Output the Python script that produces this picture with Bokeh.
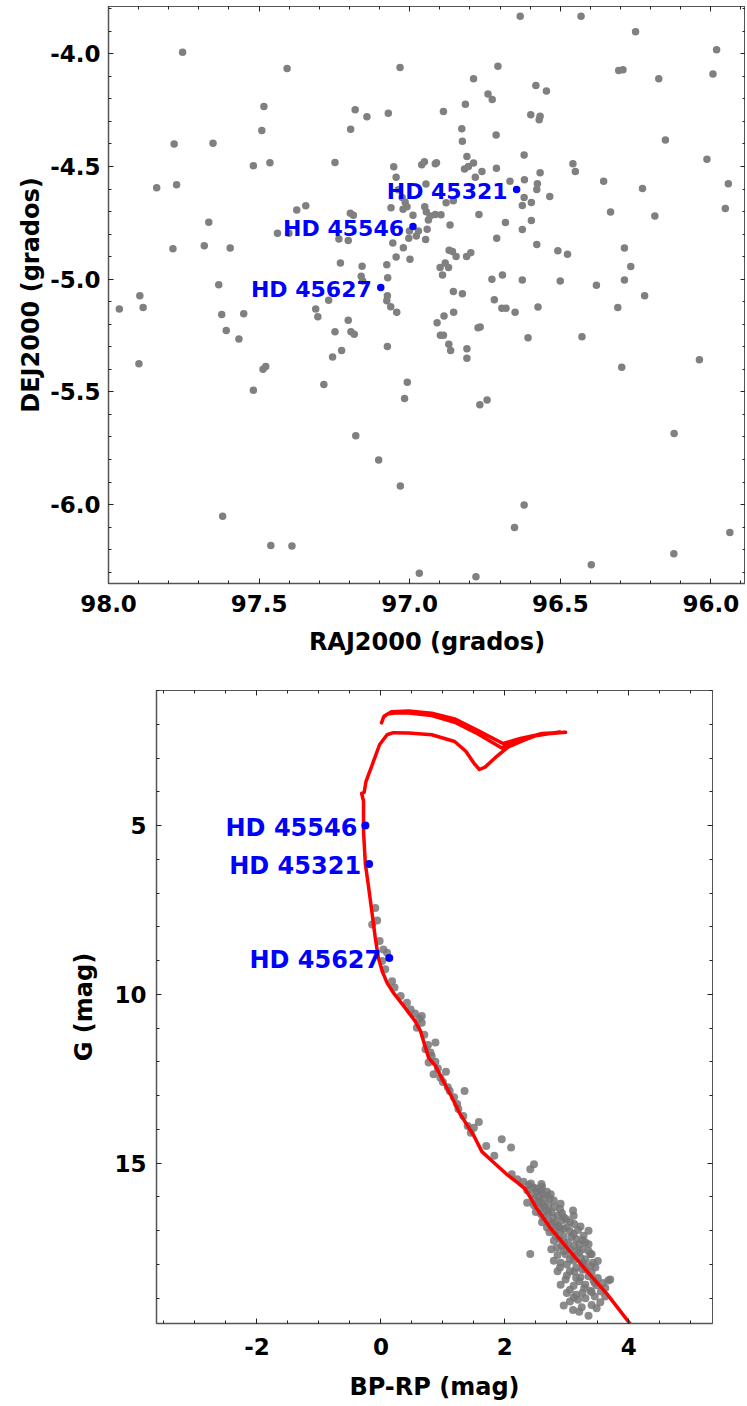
from bokeh.plotting import figure
from bokeh.models import (LinearAxis, SingleIntervalTicker, PrintfTickFormatter,
                          CustomJSTickFormatter, Range1d, ColumnDataSource)
from bokeh.embed import file_html
from bokeh.resources import INLINE
from bokeh.core.properties import value

# ---------------- data: sky positions ----------------
ra_deg = [97.754, 97.407, 97.484, 97.491, 97.782, 97.653, 97.519, 97.464, 97.840, 97.774,
          97.375, 97.345, 97.667, 97.439, 97.401, 97.786, 97.682, 97.596, 97.634, 97.896,
          97.964, 97.885, 97.624, 97.551, 97.609, 97.567, 97.899, 97.487, 97.478, 97.519,
          97.621, 97.461, 97.391,
          97.312, 97.305, 97.269, 97.204, 97.248, 97.195, 97.184, 97.226, 97.256, 97.285,
          97.074, 97.076, 97.063, 97.043, 97.074, 97.008, 97.017, 97.179, 97.103, 97.031,
          96.968, 96.780, 96.855, 96.825, 96.909, 96.886, 96.854, 96.898, 96.888, 96.870,
          96.864, 96.810, 96.810, 96.773, 96.766, 96.719, 96.694, 96.680, 96.650, 96.607,
          96.767, 96.743, 96.620, 96.652,
          96.574, 96.428, 96.309, 96.220, 96.296, 96.038, 96.122, 95.937, 96.123, 96.397,
          96.633, 97.032, 96.707, 96.788, 96.740, 96.726, 97.181, 97.142, 97.071, 96.888,
          96.815, 97.196, 96.827, 96.825, 96.713, 97.248, 97.053, 96.960, 96.951, 96.915,
          96.911, 96.810, 96.818, 96.805, 96.788, 96.760, 96.782, 96.712, 96.620, 96.619,
          96.667, 97.045, 96.946, 97.038, 97.025, 97.015, 97.009, 96.879, 96.855, 97.062,
          97.022, 96.950, 96.945, 96.932, 96.915, 96.896, 96.989, 96.938, 96.770, 97.197,
          97.187, 96.866, 96.682, 96.626, 97.235, 97.204, 97.003, 96.978, 96.971, 96.947,
          96.942, 97.001, 97.056, 97.021, 97.045, 96.999, 96.711, 97.230, 97.158, 97.076,
          96.869, 96.858, 96.846, 96.811, 96.797, 96.899, 96.882, 96.871, 96.891, 97.161,
          97.156, 97.073, 96.727, 96.692, 96.626,
          96.431, 96.250, 95.981, 96.306, 96.292, 95.993, 96.173, 96.581, 96.546, 96.598,
          96.567, 96.570, 96.151, 96.458, 96.450, 96.013, 96.567, 96.576, 96.578, 96.356,
          96.227, 95.942, 96.620, 96.626, 96.596, 96.535, 96.333, 96.186, 95.952, 96.596,
          96.578, 96.508, 96.476, 96.287, 96.266, 96.500, 96.380, 96.287]
dec_deg = [-3.993, -4.065, -4.234, -4.340, -4.400, -4.397, -4.496, -4.483, -4.594, -4.581,
           -4.693, -4.674, -4.747, -4.796, -4.796, -4.865, -4.852, -4.862, -5.024, -5.073,
           -5.132, -5.126, -5.156, -5.153, -5.228, -5.265, -5.375, -5.399, -5.387, -5.493,
           -6.052, -6.181, -6.184,
           -5.132, -5.166, -5.093, -5.182, -5.233, -5.233, -5.244, -5.316, -5.345, -5.467,
           -5.073, -5.096, -5.122, -5.147, -5.298, -5.457, -5.529, -5.695, -5.802, -5.917,
           -6.304, -6.320, -5.055, -5.065, -5.193, -5.163, -5.147, -5.249, -5.249, -5.288,
           -5.316, -5.308, -5.351, -5.215, -5.212, -5.091, -5.129, -5.129, -5.147, -5.260,
           -5.557, -5.536, -6.002, -6.101,
           -5.123, -5.255, -5.126, -5.073, -5.391, -5.357, -5.684, -6.124, -6.218, -6.267,
           -3.833, -4.061, -4.055, -4.111, -4.178, -4.203, -4.248, -4.279, -4.264, -4.256,
           -4.224, -4.335, -4.332, -4.388, -4.360, -4.482, -4.501, -4.492, -4.479, -4.488,
           -4.483, -4.455, -4.511, -4.500, -4.484, -4.522, -4.548, -4.508, -4.449, -4.559,
           -4.565, -4.548, -4.578, -4.603, -4.637, -4.658, -4.679, -4.661, -4.652, -4.683,
           -4.689, -4.679, -4.701, -4.719, -4.713, -4.714, -4.716, -4.737, -4.713, -4.707,
           -4.716, -4.759, -4.748, -4.779, -4.822, -4.828, -4.818, -4.808, -4.786, -4.824,
           -4.778, -4.786, -4.839, -4.860, -4.901, -4.911, -4.818, -4.928, -4.942, -4.936,
           -4.871, -4.877, -4.899, -4.899, -4.882, -4.948, -4.928, -4.948, -4.981, -4.987,
           -5.008, -4.993, -5.000, -4.981, -5.003,
           -3.833, -3.902, -3.982, -4.074, -4.071, -4.089, -4.111, -4.141, -4.165, -4.270,
           -4.277, -4.293, -4.382, -4.488, -4.522, -4.468, -4.528, -4.576, -4.602, -4.565,
           -4.597, -4.576, -4.637, -4.673, -4.660, -4.633, -4.702, -4.720, -4.686, -4.739,
           -4.846, -4.874, -4.889, -4.861, -4.944, -5.008, -5.027, -5.003]

star_names = ["HD 45321", "HD 45546", "HD 45627"]
star_ra = [96.645, 96.989, 97.096]
star_dec = [-4.602, -4.766, -5.037]

# ---------------- data: colour-magnitude diagram ----------------
bp_rp = [-0.09, -0.06, -0.14, -0.02, 0.04, 0.10, 0.02, 0.07, 0.18, 0.22, 0.32, 0.42, 0.55,
         0.66, 0.66, 0.58, 0.88, 0.72, 0.82, 0.77, 0.88, 0.85, 1.05, 0.96, 1.11, 1.35, 1.23,
         1.33, 1.58, 1.50, 1.70, 1.95, 2.10, 1.83, 2.41, 2.47, 2.11, 2.20, 2.59, 2.36, 2.46,
         2.62, 2.74, 2.36, 2.59, 2.79, 2.89, 2.68, 3.11, 2.99, 2.81, 2.68, 3.22, 2.89, 3.11,
         3.27, 2.79, 3.02, 3.35, 2.41, 2.79, 2.89, 3.11, 3.38, 3.46, 3.00, 3.22, 3.43, 3.67,
         3.11, 3.38, 3.54, 2.95, 3.11, 3.24, 3.35, 2.84, 3.16, 3.27,
         0.48, 0.62, 0.70, 0.76, 0.80, 0.92, 1.00, 1.08, 1.18, 1.25, 1.40, 1.45,
         2.30, 2.38, 2.52, 2.55, 2.48, 2.65, 2.70, 2.58, 2.75, 2.62, 2.85, 2.92, 2.75, 3.00,
         3.05, 2.95, 2.72, 3.15, 3.20, 2.92, 3.05, 3.25, 2.98, 3.10, 3.22, 3.30, 2.85, 3.00,
         3.15, 3.30, 3.40, 3.05, 3.20, 3.30, 3.50, 3.58, 3.05, 3.25, 3.45, 3.18, 3.40, 2.90,
         3.62, 2.88, 2.60, 3.35, 2.50, 3.40, 3.12, 2.82,
         2.42, 2.50, 2.58, 2.44, 2.68, 2.55, 2.72, 2.63, 2.80, 2.47, 2.70, 2.92, 2.58, 2.78,
         2.95, 2.70, 3.05, 2.85, 2.95, 3.18, 2.78, 3.08, 2.88, 3.25, 2.96, 3.12, 3.30, 2.75,
         2.95, 3.20, 3.35, 3.05, 2.90, 3.25, 3.42, 3.12, 2.98, 3.35, 3.48, 3.15, 3.28, 3.00,
         3.40, 3.55, 3.15, 3.30, 3.05, 3.48, 3.20, 3.62, 2.60, 3.10, 2.90, 3.38, 3.70, 3.50,
         3.10, 2.85, 3.45, 3.25]
g_mag = [7.44, 7.81, 7.93, 8.42, 8.67, 8.77, 9.01, 9.26, 9.61, 9.80, 10.05, 10.25, 10.57,
         10.64, 10.84, 10.99, 11.43, 11.63, 11.83, 12.02, 12.00, 12.37, 12.29, 12.47, 12.86,
         12.86, 13.25, 13.60, 13.78, 13.95, 14.49, 14.29, 14.54, 14.78, 15.18, 15.03, 15.33,
         15.48, 15.62, 15.80, 15.72, 15.92, 15.92, 16.17, 16.17, 16.11, 16.36, 16.41, 16.56,
         16.66, 16.76, 16.91, 16.88, 17.00, 17.10, 17.15, 17.30, 17.35, 17.40, 17.69, 17.89,
         18.09, 17.89, 17.69, 18.09, 18.33, 18.38, 18.48, 18.48, 18.63, 18.78, 19.12, 19.22,
         18.98, 19.27, 19.52, 17.50, 17.60, 17.96,
         10.45, 10.72, 11.20, 11.50, 11.72, 12.20, 12.60, 12.75, 13.05, 13.40, 13.90, 14.10,
         15.55, 15.65, 15.85, 15.98, 16.05, 16.05, 16.25, 16.32, 16.45, 16.60, 16.55, 16.70,
         16.82, 16.90, 17.02, 17.18, 17.05, 17.25, 17.40, 17.45, 17.55, 17.55, 17.70, 17.75,
         17.80, 17.85, 17.72, 18.00, 18.10, 18.15, 18.25, 18.20, 18.50, 18.60, 18.40, 18.55,
         18.75, 18.85, 18.95, 19.05, 19.20, 18.60, 18.70, 16.90, 16.75, 17.00, 16.45, 17.70,
         16.80, 17.15,
         15.60, 15.75, 15.80, 15.92, 15.85, 16.12, 16.05, 16.28, 16.30, 16.25, 16.48, 16.48,
         16.50, 16.62, 16.60, 16.70, 16.75, 16.85, 16.95, 16.98, 17.00, 17.18, 17.25, 17.28,
         17.38, 17.45, 17.35, 17.55, 17.60, 17.65, 17.60, 17.85, 17.95, 17.98, 17.95, 18.22,
         18.45, 18.35, 18.62, 18.40, 18.70, 18.85, 18.82, 18.80, 18.90, 19.00, 19.10, 19.30,
         19.40, 18.95, 15.70, 16.40, 16.20, 18.05, 18.45, 17.90, 19.35, 18.20, 18.55, 18.15]

star_bp_rp = [-0.19, -0.25, 0.135]
star_g = [6.14, 5.00, 8.92]

iso_bp_rp = [4.03, 3.65, 3.32, 3.00, 2.73, 2.52, 2.33, 2.20, 2.03, 1.82, 1.63, 1.50, 1.28, 1.12,
             0.99, 0.88, 0.77, 0.72, 0.64, 0.55, 0.37, 0.20, 0.10, 0.02, -0.04, -0.09, -0.14,
             -0.20, -0.25, -0.28, -0.28, -0.31, -0.27, -0.24, -0.14, -0.02, 0.10, 0.20, 0.45,
             0.82, 1.19, 1.37, 1.50, 1.59, 1.68, 1.87, 2.05, 2.30, 2.48, 2.70, 2.98,
             2.60, 2.30, 2.05, 1.95, 1.56, 1.19, 0.82, 0.45, 0.25, 0.10, 0.04, 0.01,
             0.05, 0.17, 0.45, 0.82, 1.19, 1.56, 1.97, 2.25, 2.55, 2.90]
iso_g = [19.78, 18.88, 18.19, 17.50, 16.91, 16.36, 15.77, 15.57, 15.33, 14.98, 14.66, 14.19,
         13.55, 12.96, 12.51, 12.12, 11.88, 11.58, 11.09, 10.79, 10.35, 9.95, 9.66, 9.31, 8.92,
         8.33, 7.63, 6.80, 6.15, 5.17, 4.28, 4.05, 4.02, 3.69, 3.20, 2.60, 2.31, 2.25, 2.26,
         2.31, 2.51, 2.80, 3.15, 3.34, 3.27, 2.95, 2.68, 2.48, 2.35, 2.28, 2.24,
         2.27, 2.42, 2.62, 2.70, 2.28, 1.94, 1.74, 1.67, 1.66, 1.70, 1.80, 1.96,
         1.76, 1.63, 1.61, 1.67, 1.84, 2.18, 2.57, 2.42, 2.30, 2.23]

FONT = "DejaVu Sans"
GRAY = "#808080"
BLUE = "#0000ff"
EMPTY = CustomJSTickFormatter(code="return ''")


def style_axis(ax, tick_std, lab_std):
    ax.major_label_text_font = FONT
    ax.major_label_text_font_style = "bold"
    ax.major_label_text_font_size = "23px"
    ax.major_label_text_color = "black"
    ax.axis_label_text_font = FONT
    ax.axis_label_text_font_style = "bold"
    ax.axis_label_text_font_size = "24px"
    ax.axis_label_text_color = "black"
    ax.major_tick_in = 5
    ax.major_tick_out = 0
    ax.minor_tick_in = 3
    ax.minor_tick_out = 0
    ax.major_tick_line_color = "#222222"
    ax.minor_tick_line_color = "#222222"
    ax.axis_line_color = "#555555"
    ax.axis_line_width = 1.5
    ax.major_label_standoff = tick_std
    ax.axis_label_standoff = lab_std


def mirror(p, ticker, side):
    ax = LinearAxis(ticker=ticker, formatter=EMPTY, major_label_standoff=0,
                    major_tick_in=5, major_tick_out=0, minor_tick_in=3, minor_tick_out=0,
                    major_tick_line_color="#222222", minor_tick_line_color="#222222",
                    axis_line_color="#555555", axis_label=None)
    p.add_layout(ax, side)


# ---------------- top figure ----------------
p1 = figure(frame_width=637, frame_height=577, output_backend="svg", toolbar_location=None,
            x_range=Range1d(98.0, 95.885), y_range=Range1d(-6.35, -3.79),
            min_border_left=108, min_border_right=0, min_border_top=6, min_border_bottom=77,
            background_fill_color="white", border_fill_color="white")
p1.grid.visible = False
p1.outline_line_color = "#555555"
xt1 = SingleIntervalTicker(interval=0.5, num_minor_ticks=5)
yt1 = SingleIntervalTicker(interval=0.5, num_minor_ticks=5)
p1.xaxis.ticker = xt1
p1.yaxis.ticker = yt1
p1.xaxis.formatter = PrintfTickFormatter(format="%.1f")
p1.yaxis.formatter = PrintfTickFormatter(format="%.1f")
p1.xaxis.axis_label = "RAJ2000 (grados)"
p1.yaxis.axis_label = "DEJ2000 (grados)"
style_axis(p1.xaxis[0], 11, 13)
style_axis(p1.yaxis[0], 8, 2)
mirror(p1, xt1, "above")
mirror(p1, yt1, "right")

p1.scatter(ra_deg, dec_deg, size=7.5, color=GRAY, line_color=None)
src1 = ColumnDataSource(dict(x=star_ra, y=star_dec, t=star_names))
p1.scatter("x", "y", source=src1, size=7.5, color=BLUE, line_color=None)
p1.text("x", "y", text="t", source=src1, text_align="right", text_baseline="middle",
        x_offset=-9, y_offset=2, text_font=value(FONT), text_font_style="bold",
        text_font_size="22px", text_color=BLUE)

# ---------------- bottom figure ----------------
p2 = figure(frame_width=556, frame_height=633, output_backend="svg", toolbar_location=None,
            x_range=Range1d(-3.62, 5.35), y_range=Range1d(19.75, 1.0),
            min_border_left=156, min_border_right=35, min_border_top=30, min_border_bottom=80,
            background_fill_color="white", border_fill_color="white")
p2.grid.visible = False
p2.outline_line_color = "#555555"
xt2 = SingleIntervalTicker(interval=2, num_minor_ticks=4)
yt2 = SingleIntervalTicker(interval=5, num_minor_ticks=5)
p2.xaxis.ticker = xt2
p2.yaxis.ticker = yt2
p2.xaxis.formatter = PrintfTickFormatter(format="%d")
p2.yaxis.formatter = PrintfTickFormatter(format="%d")
p2.xaxis.axis_label = "BP-RP (mag)"
p2.yaxis.axis_label = "G (mag)"
style_axis(p2.xaxis[0], 14, 15)
style_axis(p2.yaxis[0], 10, 13)
mirror(p2, xt2, "above")
mirror(p2, yt2, "right")

p2.scatter(bp_rp, g_mag, size=8, color="#777777", alpha=0.85, line_color=None)
p2.line(iso_bp_rp, iso_g, line_color="#ff0000", line_width=3.5, line_join="round")
src2 = ColumnDataSource(dict(x=star_bp_rp, y=star_g, t=star_names))
p2.scatter("x", "y", source=src2, size=8, color=BLUE, line_color=None)
p2.text("x", "y", text="t", source=src2, text_align="right", text_baseline="middle",
        x_offset=-8, y_offset=2, text_font=value(FONT), text_font_style="bold",
        text_font_size="24px", text_color=BLUE)

open("out.html", "w").write(file_html([p1, p2], INLINE))
